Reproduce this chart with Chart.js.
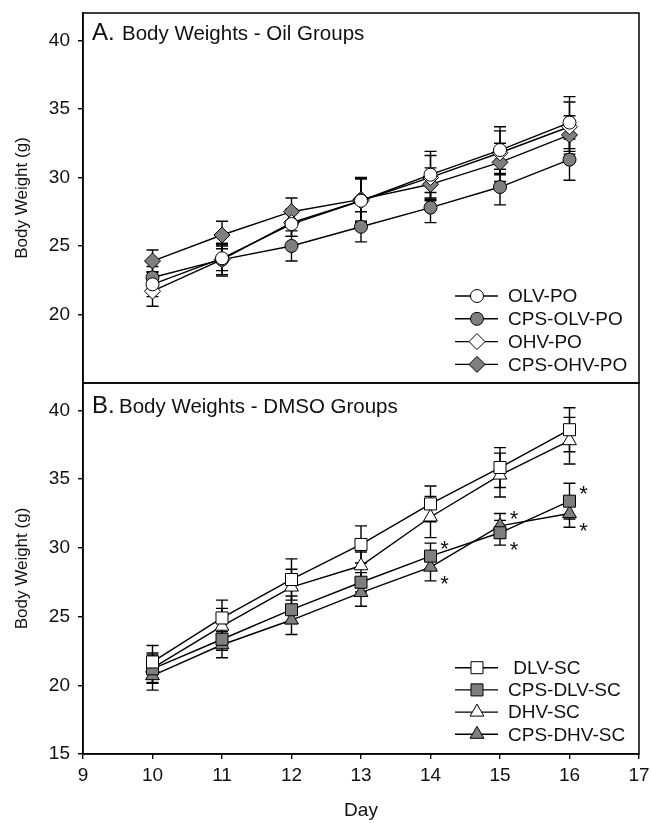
<!DOCTYPE html>
<html>
<head>
<meta charset="utf-8">
<script src="https://cdn.jsdelivr.net/npm/chart.js@4.4.1/dist/chart.umd.min.js"></script>
<style>
  html, body { margin: 0; padding: 0; background: #fff; }
  #wrap { position: relative; width: 651px; height: 823px; }
  #wrap canvas { position: absolute; left: 0; }
  #chartA { top: 0; }
  #chartB { top: 381px; }
</style>
</head>
<body>
<div id="wrap">
  <canvas id="chartA" width="651" height="386"></canvas>
  <canvas id="chartB" width="651" height="442"></canvas>
</div>
<script>
// study days (x axis)
const days = [10, 11, 12, 13, 14, 15, 16];

// A. oil groups, mean body weight (g) and SEM
const olvPo       = [22.2, 24.1, 26.6, 28.3, 30.2, 32.0, 34.0];
const olvPoSem    = [0.9, 0.9, 0.9, 1.6, 1.7, 1.7, 1.9];
const cpsOlvPo    = [22.7, 24.0, 25.0, 26.4, 27.8, 29.3, 31.3];
const cpsOlvPoSem = [0.8, 1.1, 1.1, 1.1, 1.1, 1.3, 1.5];
const ohvPo       = [21.7, 24.0, 26.7, 28.3, 30.0, 31.8, 33.7];
const ohvPoSem    = [1.1, 1.2, 1.0, 1.6, 1.6, 1.6, 1.8];
const cpsOhvPo    = [23.9, 25.8, 27.5, 28.4, 29.5, 31.1, 33.1];
const cpsOhvPoSem = [0.8, 1.0, 1.0, 1.6, 1.2, 1.4, 1.4];

// B. DMSO groups
const dlvSc       = [21.7, 24.9, 27.7, 30.25, 33.2, 35.85, 38.6];
const dlvScSem    = [1.2, 1.3, 1.5, 1.35, 1.3, 1.45, 1.6];
const cpsDlvSc    = [21.2, 23.35, 25.5, 27.5, 29.4, 31.1, 33.4];
const cpsDlvScSem = [1.0, 0.8, 1.0, 0.7, 0.95, 0.9, 1.3];
const dhvSc       = [21.25, 24.3, 27.15, 28.7, 32.25, 35.3, 37.8];
const dhvScSem    = [1.1, 1.3, 1.3, 1.0, 1.5, 1.6, 1.7];
const cpsDhvSc    = [20.7, 22.95, 24.75, 26.75, 28.6, 31.6, 32.5];
const cpsDhvScSem = [1.05, 0.95, 1.05, 1.0, 1.0, 0.9, 1.0];

// significance marks: 1 = star above-right, -1 = star below-right
const cpsDlvScStars = [0, 0, 0, 0, 1, -1, 1];
const cpsDhvScStars = [0, 0, 0, 0, -1, 1, -1];

const yTicks = [15, 20, 25, 30, 35, 40];
const xTicks = [9, 10, 11, 12, 13, 14, 15, 16, 17];

const GRAY = '#7f7f7f';
const INK = '#111';
const FONT = '"Liberation Sans", Arial, sans-serif';

function series(label, values, sem, style, radius, fill, stars) {
  return {
    label: label,
    data: days.map((d, i) => ({ x: d, y: values[i] })),
    sem: sem,
    stars: stars || null,
    borderColor: '#000',
    borderWidth: 1.4,
    pointStyle: style,
    pointRadius: radius,
    pointHoverRadius: radius,
    pointBackgroundColor: fill,
    pointBorderColor: '#000',
    pointBorderWidth: 1,
    fill: false,
    tension: 0
  };
}

const errorBars = {
  id: 'errorBars',
  beforeDatasetsDraw(chart) {
    const { ctx, scales: { x, y } } = chart;
    ctx.save();
    ctx.strokeStyle = '#000';
    ctx.lineWidth = 1.4;
    chart.data.datasets.forEach(ds => {
      ds.data.forEach((p, i) => {
        const px = x.getPixelForValue(p.x);
        const top = y.getPixelForValue(p.y + ds.sem[i]);
        const bot = y.getPixelForValue(p.y - ds.sem[i]);
        ctx.beginPath();
        ctx.moveTo(px, top); ctx.lineTo(px, bot);
        ctx.moveTo(px - 6, top); ctx.lineTo(px + 6, top);
        ctx.moveTo(px - 6, bot); ctx.lineTo(px + 6, bot);
        ctx.stroke();
      });
    });
    ctx.restore();
  }
};

const frame = {
  id: 'frame',
  afterDraw(chart) {
    const { ctx, chartArea: a } = chart;
    ctx.save();
    ctx.strokeStyle = '#000';
    ctx.lineWidth = 1.5;
    ctx.strokeRect(a.left, a.top, a.right - a.left, a.bottom - a.top);
    ctx.restore();
  }
};

const panelTitle = {
  id: 'panelTitle',
  afterDraw(chart, args, opts) {
    const { ctx, chartArea: a } = chart;
    ctx.save();
    ctx.fillStyle = INK;
    ctx.textBaseline = 'alphabetic';
    ctx.font = '24px ' + FONT;
    ctx.fillText(opts.letter, a.left + 9, a.top + opts.baseline);
    ctx.font = '20.5px ' + FONT;
    ctx.fillText(opts.text, a.left + opts.textX, a.top + opts.baseline);
    ctx.restore();
  }
};

const boxLegend = {
  id: 'boxLegend',
  afterDatasetsDraw(chart, args, opts) {
    const { ctx, chartArea: a } = chart;
    ctx.save();
    chart.data.datasets.forEach((ds, i) => {
      const yy = a.bottom - opts.fromBottom + i * opts.step;
      const x0 = 455, x1 = 498, xm = 477;
      ctx.strokeStyle = '#000';
      ctx.lineWidth = 1.4;
      ctx.beginPath();
      ctx.moveTo(x0, yy); ctx.lineTo(x1, yy);
      ctx.stroke();
      ctx.fillStyle = ds.pointBackgroundColor;
      ctx.strokeStyle = '#000';
      ctx.lineWidth = 1;
      Chart.helpers.drawPoint(ctx, { pointStyle: ds.pointStyle, radius: ds.pointRadius, rotation: 0, borderWidth: 1 }, xm, yy);
      ctx.fillStyle = INK;
      ctx.font = '19px ' + FONT;
      ctx.textBaseline = 'middle';
      ctx.fillText(ds.label, 508, yy + 1);
    });
    ctx.restore();
  }
};

const starMarks = {
  id: 'starMarks',
  afterDatasetsDraw(chart) {
    const { ctx, scales: { x, y } } = chart;
    ctx.save();
    ctx.fillStyle = INK;
    ctx.font = '22px ' + FONT;
    ctx.textAlign = 'center';
    ctx.textBaseline = 'alphabetic';
    chart.data.datasets.forEach(ds => {
      if (!ds.stars) return;
      ds.data.forEach((p, i) => {
        const s = ds.stars[i];
        if (!s) return;
        const px = x.getPixelForValue(p.x) + 14;
        const py = y.getPixelForValue(p.y) - s * 12;
        ctx.fillText('*', px, py + 12);
      });
    });
    ctx.restore();
  }
};

function yAxis(showBottomTick) {
  return {
    type: 'linear',
    min: 15,
    max: 42,
    afterBuildTicks: s => { s.ticks = yTicks.filter(v => showBottomTick || v !== 15).map(v => ({ value: v })); },
    afterFit: s => { s.width = 83; s.paddingTop = 0; s.paddingBottom = 0; },
    ticks: {
      color: INK,
      padding: 8,
      font: { size: 19, family: FONT }
    },
    grid: { drawOnChartArea: false, tickLength: 5, color: '#000', lineWidth: 1.4 },
    border: { display: true, color: '#000', width: 1.5 },
    title: {
      display: true,
      text: 'Body Weight (g)',
      color: INK,
      padding: { top: 12, bottom: 0 },
      font: { size: 17, family: FONT }
    }
  };
}

const baseOptions = {
  responsive: false,
  animation: false,
  events: [],
  plugins: { legend: { display: false }, tooltip: { enabled: false } }
};

new Chart(document.getElementById('chartA'), {
  type: 'line',
  data: {
    datasets: [
      series('OLV-PO', olvPo, olvPoSem, 'circle', 6.5, '#fff'),
      series('CPS-OLV-PO', cpsOlvPo, cpsOlvPoSem, 'circle', 6.5, GRAY),
      series('OHV-PO', ohvPo, ohvPoSem, 'rectRot', 8, '#fff'),
      series('CPS-OHV-PO', cpsOhvPo, cpsOhvPoSem, 'rectRot', 8, GRAY)
    ]
  },
  options: {
    ...baseOptions,
    layout: { autoPadding: false, padding: { top: 13, right: 12, bottom: 3, left: 0 } },
    scales: {
      x: { type: 'linear', min: 9, max: 17, display: false },
      y: yAxis(false)
    },
    plugins: {
      ...baseOptions.plugins,
      panelTitle: { letter: 'A.', text: 'Body Weights - Oil Groups', textX: 39, baseline: 27 },
      boxLegend: { fromBottom: 87, step: 22.8 }
    }
  },
  plugins: [errorBars, frame, panelTitle, boxLegend]
});

new Chart(document.getElementById('chartB'), {
  type: 'line',
  data: {
    datasets: [
      series(' DLV-SC', dlvSc, dlvScSem, 'rect', 8.5, '#fff'),
      series('CPS-DLV-SC', cpsDlvSc, cpsDlvScSem, 'rect', 8.5, GRAY, cpsDlvScStars),
      series('DHV-SC', dhvSc, dhvScSem, 'triangle', 8, '#fff'),
      series('CPS-DHV-SC', cpsDhvSc, cpsDhvScSem, 'triangle', 8, GRAY, cpsDhvScStars)
    ]
  },
  options: {
    ...baseOptions,
    layout: { autoPadding: false, padding: { top: 2, right: 12, bottom: 0, left: 0 } },
    scales: {
      x: {
        type: 'linear',
        min: 9,
        max: 17,
        afterBuildTicks: s => { s.ticks = xTicks.map(v => ({ value: v })); },
        afterFit: s => { s.height = 69; s.paddingLeft = 0; s.paddingRight = 0; },
        ticks: {
          color: INK,
          padding: 5,
          font: { size: 19, family: FONT }
        },
        grid: { drawOnChartArea: false, tickLength: 5, color: '#000', lineWidth: 1.4 },
        border: { display: true, color: '#000', width: 1.5 },
        title: {
          display: true,
          text: 'Day',
          color: INK,
          padding: { top: 0, bottom: 1 },
          font: { size: 19, family: FONT }
        }
      },
      y: yAxis(true)
    },
    plugins: {
      ...baseOptions.plugins,
      panelTitle: { letter: 'B.', text: 'Body Weights - DMSO Groups', textX: 36, baseline: 30 },
      boxLegend: { fromBottom: 86.3, step: 22.2 }
    }
  },
  plugins: [errorBars, frame, panelTitle, boxLegend, starMarks]
});
</script>
</body>
</html>
